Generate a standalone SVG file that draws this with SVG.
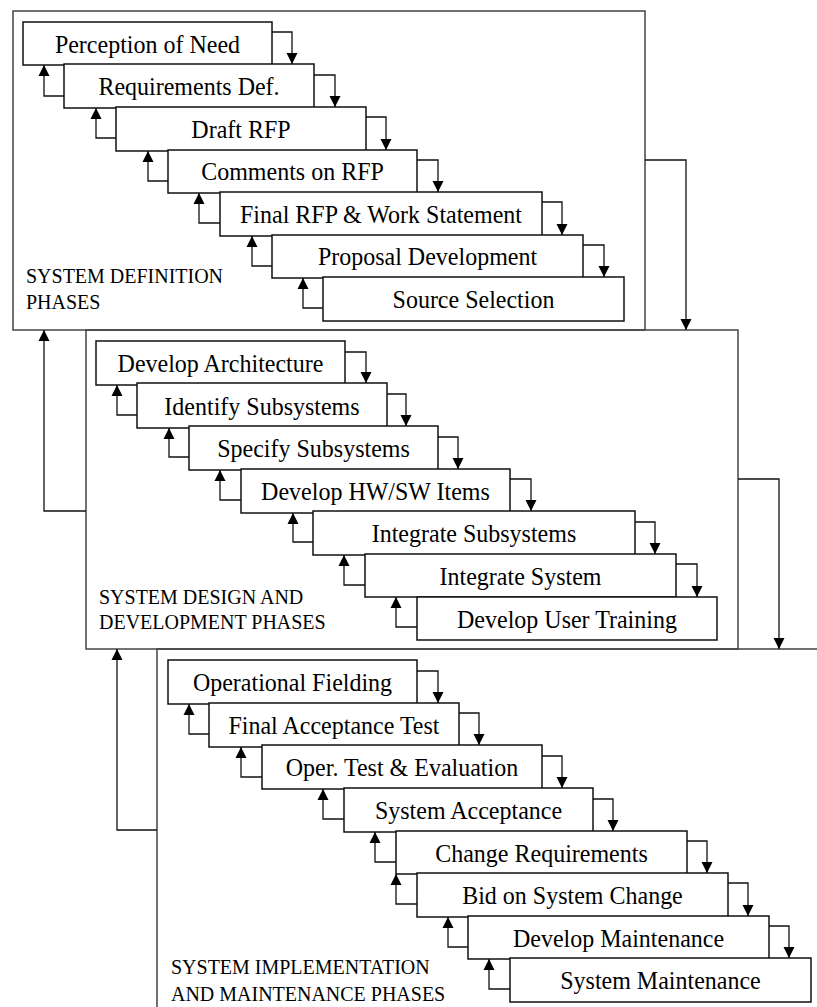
<svg xmlns="http://www.w3.org/2000/svg" width="817" height="1007" viewBox="0 0 817 1007">
<style>
.sec{fill:none;stroke:#444;stroke-width:1.5}
.box{fill:#fff;stroke:#111;stroke-width:1.5}
.t{font-family:"Liberation Serif","Times New Roman",serif;font-size:24px;fill:#000;text-anchor:middle;transform-box:fill-box;transform-origin:center;transform:scaleY(1.09)}
.lbl{font-family:"Liberation Serif","Times New Roman",serif;font-size:20px;fill:#000;transform-box:fill-box;transform-origin:center;transform:scaleY(1.08)}
.c{fill:none;stroke:#111;stroke-width:1.3;marker-end:url(#ah)}
</style>
<defs>
<marker id="ah" viewBox="0 0 12 12" refX="12" refY="6" markerWidth="11" markerHeight="12" markerUnits="userSpaceOnUse" orient="auto">
<path d="M0,0 L12,6 L0,12 z" fill="#000"/>
</marker>
</defs>
<rect width="817" height="1007" fill="#fff"/>

<g id="phase1">
<rect class="sec" x="13" y="11" width="632" height="319"/>
<text class="lbl" x="26" y="282">SYSTEM DEFINITION</text>
<text class="lbl" x="26" y="308">PHASES</text>
</g>
<g id="phase2">
<rect class="sec" x="86" y="330" width="652" height="319"/>
<text class="lbl" x="99" y="603">SYSTEM DESIGN AND</text>
<text class="lbl" x="99" y="628">DEVELOPMENT PHASES</text>
</g>
<g id="phase3">
<rect class="sec" x="157" y="649" width="700" height="400"/>
<text class="lbl" x="171" y="973">SYSTEM IMPLEMENTATION</text>
<text class="lbl" x="171" y="1000">AND MAINTENANCE PHASES</text>
</g>

<g id="n1"><rect class="box" x="23" y="22" width="249" height="43"/><text class="t" x="147.5" y="52">Perception of Need</text></g>
<g id="n2"><rect class="box" x="64" y="64" width="250" height="44"/><text class="t" x="189" y="94">Requirements Def.</text></g>
<g id="n3"><rect class="box" x="116" y="107" width="250" height="44"/><text class="t" x="241" y="137">Draft RFP</text></g>
<g id="n4"><rect class="box" x="168" y="150" width="249" height="43"/><text class="t" x="292.5" y="179">Comments on RFP</text></g>
<g id="n5"><rect class="box" x="220" y="192" width="322" height="44"/><text class="t" x="381" y="222">Final RFP &amp; Work Statement</text></g>
<g id="n6"><rect class="box" x="272" y="235" width="311" height="43"/><text class="t" x="427.5" y="264">Proposal Development</text></g>
<g id="n7"><rect class="box" x="323" y="277" width="301" height="44"/><text class="t" x="473.5" y="307">Source Selection</text></g>

<g id="n8"><rect class="box" x="96" y="341" width="249" height="44"/><text class="t" x="220.5" y="371">Develop Architecture</text></g>
<g id="n9"><rect class="box" x="137" y="383" width="250" height="45"/><text class="t" x="262" y="414">Identify Subsystems</text></g>
<g id="n10"><rect class="box" x="189" y="426" width="249" height="44"/><text class="t" x="313.5" y="456">Specify Subsystems</text></g>
<g id="n11"><rect class="box" x="241" y="469" width="269" height="44"/><text class="t" x="375.5" y="499">Develop HW/SW Items</text></g>
<g id="n12"><rect class="box" x="313" y="511" width="322" height="44"/><text class="t" x="474" y="541">Integrate Subsystems</text></g>
<g id="n13"><rect class="box" x="365" y="554" width="311" height="43"/><text class="t" x="520.5" y="584">Integrate System</text></g>
<g id="n14"><rect class="box" x="417" y="597" width="300" height="43"/><text class="t" x="567" y="627">Develop User Training</text></g>

<g id="n15"><rect class="box" x="168" y="660" width="249" height="44"/><text class="t" x="292.5" y="690">Operational Fielding</text></g>
<g id="n16"><rect class="box" x="209" y="703" width="250" height="44"/><text class="t" x="334" y="733">Final Acceptance Test</text></g>
<g id="n17"><rect class="box" x="262" y="745" width="280" height="44"/><text class="t" x="402" y="775">Oper. Test &amp; Evaluation</text></g>
<g id="n18"><rect class="box" x="344" y="788" width="249" height="44"/><text class="t" x="468.5" y="818">System Acceptance</text></g>
<g id="n19"><rect class="box" x="396" y="831" width="291" height="43"/><text class="t" x="541.5" y="861">Change Requirements</text></g>
<g id="n20"><rect class="box" x="417" y="873" width="311" height="44"/><text class="t" x="572.5" y="903">Bid on System Change</text></g>
<g id="n21"><rect class="box" x="468" y="916" width="301" height="43"/><text class="t" x="618.5" y="946">Develop Maintenance</text></g>
<g id="n22"><rect class="box" x="510" y="958" width="301" height="44"/><text class="t" x="660.5" y="988">System Maintenance</text></g>

<g id="connectors">
<path class="c" d="M272,32 H292 V64"/>
<path class="c" d="M314,75 H335 V107"/>
<path class="c" d="M366,117 H386 V150"/>
<path class="c" d="M417,160 H438 V192"/>
<path class="c" d="M542,202 H562 V235"/>
<path class="c" d="M583,245 H604 V277"/>
<path class="c" d="M64,96 H44 V65"/>
<path class="c" d="M116,138 H96 V108"/>
<path class="c" d="M168,181 H148 V151"/>
<path class="c" d="M220,223 H199 V193"/>
<path class="c" d="M272,266 H252 V236"/>
<path class="c" d="M323,308 H303 V278"/>

<path class="c" d="M345,352 H366 V383"/>
<path class="c" d="M387,394 H406 V426"/>
<path class="c" d="M438,437 H458 V469"/>
<path class="c" d="M510,479 H531 V511"/>
<path class="c" d="M635,522 H655 V554"/>
<path class="c" d="M676,564 H697 V597"/>
<path class="c" d="M137,415 H117 V385"/>
<path class="c" d="M189,457 H169 V428"/>
<path class="c" d="M241,500 H220 V470"/>
<path class="c" d="M313,542 H293 V513"/>
<path class="c" d="M365,585 H344 V555"/>
<path class="c" d="M417,627 H396 V597"/>

<path class="c" d="M417,671 H438 V703"/>
<path class="c" d="M459,713 H479 V745"/>
<path class="c" d="M542,756 H562 V788"/>
<path class="c" d="M593,799 H613 V831"/>
<path class="c" d="M687,841 H707 V873"/>
<path class="c" d="M728,883 H748 V916"/>
<path class="c" d="M769,926 H789 V958"/>
<path class="c" d="M209,734 H189 V704"/>
<path class="c" d="M262,777 H241 V747"/>
<path class="c" d="M344,819 H323 V789"/>
<path class="c" d="M396,862 H375 V832"/>
<path class="c" d="M417,904 H396 V874"/>
<path class="c" d="M468,947 H448 V917"/>
<path class="c" d="M510,989 H489 V959"/>

<path class="c" d="M645,160 H686 V330"/>
<path class="c" d="M738,479 H779 V649"/>
<path class="c" d="M86,511 H44 V330"/>
<path class="c" d="M157,830 H117 V649"/>
</g>
</svg>
